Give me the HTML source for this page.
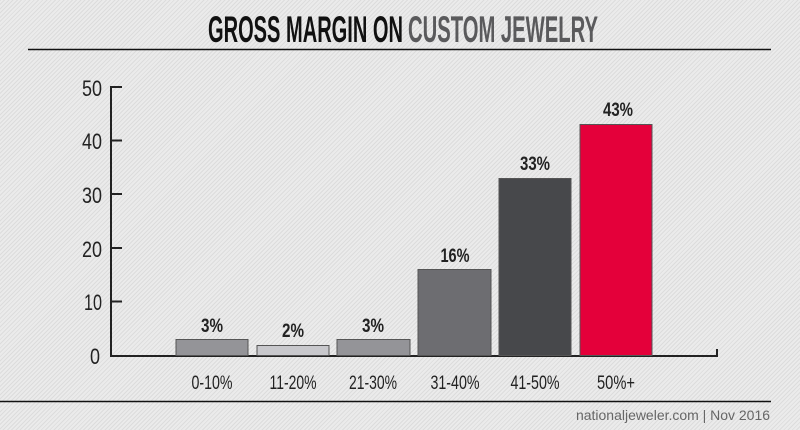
<!DOCTYPE html>
<html><head><style>
html,body{margin:0;padding:0;}
body{width:800px;height:430px;overflow:hidden;background:#e9e9e9 repeating-linear-gradient(-45deg,#ebebeb 0 2px,#dcdcdc 2px 3px);}
svg{position:absolute;left:0;top:0;}
.c{font-family:"Liberation Sans Narrow","Liberation Sans",sans-serif;}
</style></head><body>
<svg width="800" height="430" xmlns="http://www.w3.org/2000/svg">
<text x="208" y="42" class="c" font-size="37" font-weight="bold" fill="#111" textLength="195" lengthAdjust="spacingAndGlyphs">GROSS MARGIN ON</text>
<text x="408" y="42" class="c" font-size="37" font-weight="bold" fill="#5a5a5c" textLength="190" lengthAdjust="spacingAndGlyphs">CUSTOM JEWELRY</text>
<line x1="28" y1="49.5" x2="771" y2="49.5" stroke="#111" stroke-width="1.5"/>
<line x1="0" y1="401.5" x2="771" y2="401.5" stroke="#111" stroke-width="1.5"/>
<g class="c" font-size="22" fill="#222" text-anchor="end">
<text x="102" y="96" textLength="20" lengthAdjust="spacingAndGlyphs">50</text>
<text x="102" y="149" textLength="20" lengthAdjust="spacingAndGlyphs">40</text>
<text x="102" y="203" textLength="20" lengthAdjust="spacingAndGlyphs">30</text>
<text x="102" y="257" textLength="20" lengthAdjust="spacingAndGlyphs">20</text>
<text x="102" y="310" textLength="18" lengthAdjust="spacingAndGlyphs">10</text>
<text x="100" y="364" textLength="10" lengthAdjust="spacingAndGlyphs">0</text>
</g>
<g stroke="#222" stroke-width="2" fill="none">
<path d="M122 87H111V356H717V349"/>
<path d="M111 140.5H122M111 194H122M111 248H122M111 301.5H122"/>
</g>
<g stroke="#555" stroke-width="1">
<rect x="176" y="339.5" width="72" height="16" fill="#949498"/>
<rect x="257" y="345.5" width="72" height="10" fill="#c8c8cc"/>
<rect x="337" y="339.5" width="73" height="16" fill="#949498"/>
<rect x="418" y="269.5" width="73" height="86" fill="#6d6d71"/>
<rect x="499" y="178.5" width="72" height="177" fill="#47484b"/>
<rect x="580" y="124.5" width="72" height="231" fill="#e4003a"/>
</g>
<g class="c" font-size="19" font-weight="bold" fill="#222" text-anchor="middle">
<text x="212" y="332" textLength="22" lengthAdjust="spacingAndGlyphs">3%</text>
<text x="293" y="337" textLength="22" lengthAdjust="spacingAndGlyphs">2%</text>
<text x="373" y="332" textLength="22" lengthAdjust="spacingAndGlyphs">3%</text>
<text x="455" y="262" textLength="29" lengthAdjust="spacingAndGlyphs">16%</text>
<text x="535" y="170" textLength="30" lengthAdjust="spacingAndGlyphs">33%</text>
<text x="618" y="116" textLength="30" lengthAdjust="spacingAndGlyphs">43%</text>
</g>
<g class="c" font-size="19" fill="#222" text-anchor="middle">
<text x="212" y="389" textLength="41" lengthAdjust="spacingAndGlyphs">0-10%</text>
<text x="293" y="389" textLength="47" lengthAdjust="spacingAndGlyphs">11-20%</text>
<text x="373" y="389" textLength="48" lengthAdjust="spacingAndGlyphs">21-30%</text>
<text x="455" y="389" textLength="49" lengthAdjust="spacingAndGlyphs">31-40%</text>
<text x="535" y="389" textLength="49" lengthAdjust="spacingAndGlyphs">41-50%</text>
<text x="616" y="389" textLength="38" lengthAdjust="spacingAndGlyphs">50%+</text>
</g>
<text x="770" y="420" font-family="'Liberation Sans',sans-serif" font-size="14" fill="#666" text-anchor="end" textLength="194" lengthAdjust="spacingAndGlyphs">nationaljeweler.com | Nov 2016</text>
</svg>
</body></html>
